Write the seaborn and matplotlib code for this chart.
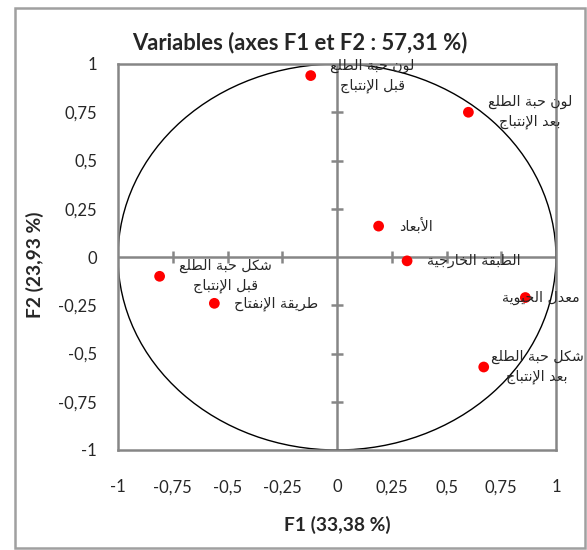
import unicodedata
import pandas as pd
import seaborn as sns
import matplotlib
matplotlib.use('Agg')
import matplotlib.pyplot as plt
from matplotlib.patches import Circle, Rectangle

# variable coordinates on F1 / F2
variables = ['لون حبة الطلع\nقبل الإنتباج',
             'لون حبة الطلع\nبعد الإنتباج',
             'الأبعاد',
             'الطبقة الخارجية',
             'معدل الحيوية',
             'شكل حبة الطلع\nبعد الإنتباج',
             'شكل حبة الطلع\nقبل الإنتباج',
             'طريقة الإنفتاح']
f1 = [-0.12, 0.60, 0.19, 0.32, 0.86, 0.67, -0.81, -0.56]
f2 = [0.94, 0.75, 0.16, -0.02, -0.21, -0.57, -0.10, -0.24]

ticks = [-1, -0.75, -0.5, -0.25, 0, 0.25, 0.5, 0.75, 1]
tick_labels = ['-1', '-0,75', '-0,5', '-0,25', '0', '0,25', '0,5', '0,75', '1']

# label offsets from the point (points), like excel placed them
label_dx = [14, 14, 15, 14, -17, 5, 14, 14]

# --- tiny arabic shaper (matplotlib has no bidi / joining) ---
FORMS = {}
LIGS = {}
for cp in range(0xFE70, 0xFEFF):
    d = unicodedata.decomposition(chr(cp))
    if not d.startswith('<'):
        continue
    tag, *codes = d.split()
    chars = ''.join(chr(int(c, 16)) for c in codes)
    form = tag.strip('<>')
    if len(chars) == 1:
        FORMS.setdefault(chars, {})[form] = chr(cp)
    elif len(chars) == 2:
        LIGS.setdefault(chars, {})[form] = chr(cp)


def joins_next(c):
    return c in FORMS and 'initial' in FORMS[c]


def joins_prev(c):
    return c in FORMS and 'final' in FORMS[c]


def shape_line(text):
    out = []
    i = 0
    n = len(text)
    while i < n:
        c = text[i]
        prev = text[i - 1] if i > 0 else ''
        pj = joins_next(prev) and joins_prev(c)
        if c == 'ل' and i + 1 < n and (c + text[i + 1]) in LIGS:
            lig = LIGS[c + text[i + 1]]
            out.append(lig['final'] if pj else lig['isolated'])
            i += 2
            continue
        if c not in FORMS:
            out.append(c)
            i += 1
            continue
        nxt = text[i + 1] if i + 1 < n else ''
        nj = joins_next(c) and joins_prev(nxt)
        f = FORMS[c]
        if pj and nj:
            out.append(f['medial'])
        elif pj:
            out.append(f['final'])
        elif nj:
            out.append(f['initial'])
        else:
            out.append(f['isolated'])
        i += 1
    return ''.join(out)[::-1]


def arabic(text):
    return '\n'.join(shape_line(l) for l in text.split('\n'))


def main():
    sns.set_style('white')
    plt.rcParams['font.family'] = ['Lato', 'DejaVu Sans']

    df = pd.DataFrame({'F1': f1, 'F2': f2, 'var': variables})

    fig = plt.figure(figsize=(5.87, 5.5), dpi=100)
    ax = fig.add_axes([118 / 587, 100 / 550, 438 / 587, 386 / 550])

    grey = '#868686'
    ax.axhline(0, color=grey, lw=1.8, zorder=1)
    ax.axvline(0, color=grey, lw=1.8, zorder=1)
    inner = [t for t in ticks if t not in (-1, 0, 1)]
    ax.plot(inner, [0] * len(inner), ls='none', marker='|', ms=9,
            mew=1.8, color=grey, zorder=1)
    ax.plot([0] * len(inner), inner, ls='none', marker='_', ms=9,
            mew=1.8, color=grey, zorder=1)

    ax.add_patch(Circle((0, 0), 1, fill=False, ec='black', lw=1, zorder=2))

    sns.scatterplot(data=df, x='F1', y='F2', color='#ff0000', s=60,
                    edgecolor='none', ax=ax, zorder=3, legend=False)

    for (x, y, name), dx in zip(zip(f1, f2, variables), label_dx):
        ax.annotate(arabic(name), (x, y), xytext=(dx, 0),
                    textcoords='offset points', ha='left', va='center',
                    multialignment='center', fontsize=10.3,
                    family='DejaVu Sans', linespacing=1.5,
                    annotation_clip=False, zorder=4)

    ax.set_xlim(-1, 1)
    ax.set_ylim(-1, 1)
    ax.set_xticks(ticks)
    ax.set_xticklabels(tick_labels)
    ax.set_yticks(ticks)
    ax.set_yticklabels(tick_labels)
    ax.tick_params(axis='x', length=0, pad=21, labelsize=12)
    ax.tick_params(axis='y', length=0, pad=15, labelsize=12)
    for s in ax.spines.values():
        s.set_color(grey)
        s.set_linewidth(1.8)

    ax.set_xlabel('F1 (33,38 %)', fontsize=13.8, fontweight='bold')
    ax.xaxis.set_label_coords(0.5, -0.17)
    ax.set_ylabel('F2 (23,93 %)', fontsize=13.8, fontweight='bold')
    ax.yaxis.set_label_coords(-0.17, 0.48)

    fig.text(0.51, 1 - 43 / 550, 'Variables (axes F1 et F2 : 57,31 %)',
             ha='center', va='center', fontsize=15.8, fontweight='bold')

    fig.patches.append(Rectangle((15 / 587, 2 / 550), 570 / 587, 540 / 550,
                                 transform=fig.transFigure, fill=False,
                                 ec='#a0a0a0', lw=1.8))

    fig.savefig('out.png', dpi=100)


if __name__ == '__main__':
    main()
